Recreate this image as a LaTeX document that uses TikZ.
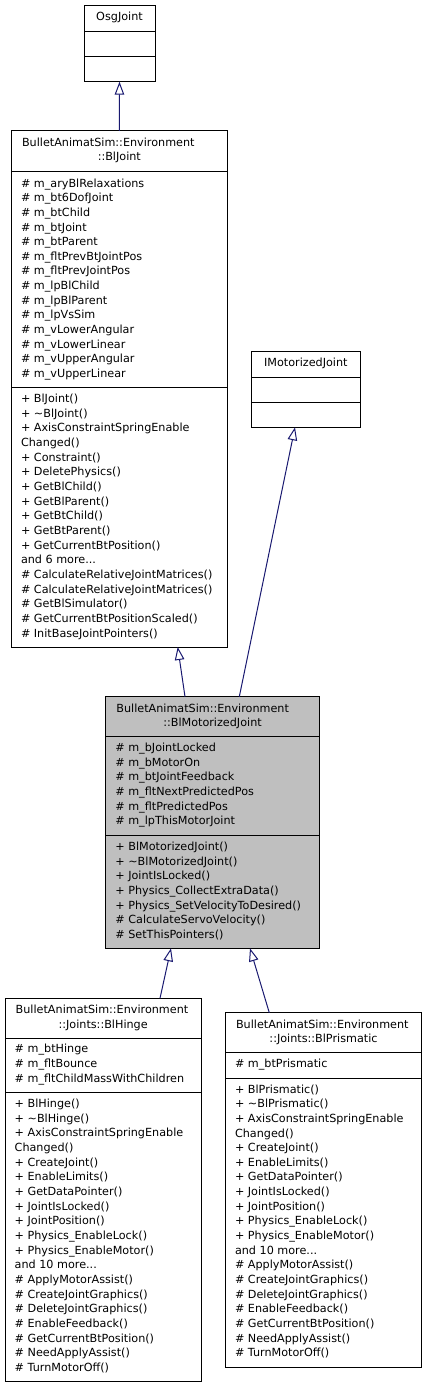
\documentclass[tikz,border=0pt]{standalone}
\usepackage{fontspec}
\setmainfont{DejaVu Sans}
\usepackage{tikz}
\usetikzlibrary{arrows.meta}

\definecolor{edgeblue}{HTML}{191970}
\definecolor{activegray}{HTML}{BFBFBF}

\begin{document}
\begin{tikzpicture}[x=1pt, y=-1pt,
    cls/.style={draw=black, line width=1pt, fill=white, anchor=north west, inner sep=0pt, outer sep=0pt},
    member/.style={anchor=base west, align=left, inner sep=0pt, font=\fontsize{11.2}{14.66}\selectfont},
    title/.style={anchor=base, inner sep=0pt, font=\fontsize{11.2}{14.66}\selectfont},
    inherit/.style={draw=edgeblue, line width=1pt, -{Triangle[open, length=13pt, width=9.5pt]}}]
    \useasboundingbox (0,0) rectangle (427,1388);

    % class frames
    \node [cls, minimum width=71pt, minimum height=76pt] (OsgJoint) at (84,5.7) {};
    \node [cls, minimum width=216pt, minimum height=516pt] (BlJoint) at (11.3,131) {};
    \node [cls, minimum width=108.3pt, minimum height=76.3pt] (IMotorizedJoint) at (251.7,351) {};
    \node [cls, fill=activegray, minimum width=213.6pt, minimum height=251.6pt] (BlMotorizedJoint) at (105.7,696.7) {};
    \node [cls, minimum width=196.3pt, minimum height=383.4pt] (BlHinge) at (5,998.3) {};
    \node [cls, minimum width=196.4pt, minimum height=354.6pt] (BlPrismatic) at (225.3,1012.7) {};

    % compartments
    \draw (OsgJoint.north west) ++(0,25.3) -- ++(71,0) ++(-71,25.3) -- ++(71,0);
    \draw (IMotorizedJoint.north west) ++(0,25.7) -- ++(108.3,0) ++(-108.3,25) -- ++(108.3,0);
    \draw (BlJoint.north west) ++(0,40.7) -- ++(216,0) ++(-216,215.6) -- ++(216,0);
    \draw (BlMotorizedJoint.north west) ++(0,39.6) -- ++(213.6,0) ++(-213.6,99) -- ++(213.6,0);
    \draw (BlHinge.north west) ++(0,39.4) -- ++(196.3,0) ++(-196.3,54.6) -- ++(196.3,0);
    \draw (BlPrismatic.north west) ++(0,39.6) -- ++(196.4,0) ++(-196.4,25.4) -- ++(196.4,0);

    % OsgJoint
    \node [title] (OsgJointName) at (119.5,21) {OsgJoint};

    % IMotorizedJoint
    \node [title] (IMotorizedJointName) at (305.85,366.3) {IMotorizedJoint};

    % BlJoint (member nodes sit on their last baseline)
    \node [member] (BlJointName) at (21.8,146.3) {BulletAnimatSim::Environment};
    \node [title] (BlJointNameB) at (119.3,161) {::BlJoint};
    \node [member] (BlJointAttr) at (20.8,377.6) {\# m\_aryBlRelaxations\\ \# m\_bt6DofJoint\\ \# m\_btChild\\
        \# m\_btJoint\\ \# m\_btParent\\ \# m\_fltPrevBtJointPos\\ \# m\_fltPrevJointPos\\
        \# m\_lpBlChild\\ \# m\_lpBlParent\\ \# m\_lpVsSim\\ \# m\_vLowerAngular\\
        \# m\_vLowerLinear\\ \# m\_vUpperAngular\\ \# m\_vUpperLinear};
    \node [member] (BlJointOps) at (20.8,637.2) {+ BlJoint()\\ + \textasciitilde{}BlJoint()\\
        + AxisConstraintSpringEnable\\ Changed()\\ + Constraint()\\ + DeletePhysics()\\
        + GetBlChild()\\ + GetBlParent()\\ + GetBtChild()\\ + GetBtParent()\\
        + GetCurrentBtPosition()\\ and 6 more...\\ \# CalculateRelativeJointMatrices()\\
        \# CalculateRelativeJointMatrices()\\ \# GetBlSimulator()\\
        \# GetCurrentBtPositionScaled()\\ \# InitBaseJointPointers()};

    % BlMotorizedJoint
    \node [member] (BlMotorizedJointName) at (116.2,712) {BulletAnimatSim::Environment};
    \node [title] (BlMotorizedJointNameB) at (212.5,726.7) {::BlMotorizedJoint};
    \node [member] (BlMotorizedJointAttr) at (115.2,824.9) {\# m\_bJointLocked\\ \# m\_bMotorOn\\
        \# m\_btJointFeedback\\ \# m\_fltNextPredictedPos\\ \# m\_fltPredictedPos\\
        \# m\_lpThisMotorJoint};
    \node [member] (BlMotorizedJointOps) at (115.2,938.6) {+ BlMotorizedJoint()\\
        + \textasciitilde{}BlMotorizedJoint()\\ + JointIsLocked()\\ + Physics\_CollectExtraData()\\
        + Physics\_SetVelocityToDesired()\\ \# CalculateServoVelocity()\\ \# SetThisPointers()};

    % BlHinge
    \node [member] (BlHingeName) at (15.5,1013.6) {BulletAnimatSim::Environment};
    \node [title] (BlHingeNameB) at (103.15,1028.3) {::Joints::BlHinge};
    \node [member] (BlHingeAttr) at (14.5,1082.3) {\# m\_btHinge\\ \# m\_fltBounce\\
        \# m\_fltChildMassWithChildren};
    \node [member] (BlHingeOps) at (14.5,1371.5) {+ BlHinge()\\ + \textasciitilde{}BlHinge()\\
        + AxisConstraintSpringEnable\\ Changed()\\ + CreateJoint()\\ + EnableLimits()\\
        + GetDataPointer()\\ + JointIsLocked()\\ + JointPosition()\\ + Physics\_EnableLock()\\
        + Physics\_EnableMotor()\\ and 10 more...\\ \# ApplyMotorAssist()\\
        \# CreateJointGraphics()\\ \# DeleteJointGraphics()\\ \# EnableFeedback()\\
        \# GetCurrentBtPosition()\\ \# NeedApplyAssist()\\ \# TurnMotorOff()};

    % BlPrismatic
    \node [member] (BlPrismaticName) at (235.8,1028) {BulletAnimatSim::Environment};
    \node [title] (BlPrismaticNameB) at (323.5,1042.7) {::Joints::BlPrismatic};
    \node [member] (BlPrismaticAttr) at (234.8,1067.6) {\# m\_btPrismatic};
    \node [member] (BlPrismaticOps) at (234.8,1356.9) {+ BlPrismatic()\\ + \textasciitilde{}BlPrismatic()\\
        + AxisConstraintSpringEnable\\ Changed()\\ + CreateJoint()\\ + EnableLimits()\\
        + GetDataPointer()\\ + JointIsLocked()\\ + JointPosition()\\ + Physics\_EnableLock()\\
        + Physics\_EnableMotor()\\ and 10 more...\\ \# ApplyMotorAssist()\\
        \# CreateJointGraphics()\\ \# DeleteJointGraphics()\\ \# EnableFeedback()\\
        \# GetCurrentBtPosition()\\ \# NeedApplyAssist()\\ \# TurnMotorOff()};

    % inheritance
    \draw [inherit] (BlJoint.north) -- (OsgJoint.south);
    \draw [inherit] ([xshift=79.3pt]BlMotorizedJoint.north west) -- ([xshift=166.4pt]BlJoint.south west);
    \draw [inherit] ([xshift=133.6pt]BlMotorizedJoint.north west) -- ([xshift=43.3pt]IMotorizedJoint.south west);
    \draw [inherit] ([xshift=155pt]BlHinge.north west) -- ([xshift=65.3pt]BlMotorizedJoint.south west);
    \draw [inherit] ([xshift=44pt]BlPrismatic.north west) -- ([xshift=144.3pt]BlMotorizedJoint.south west);
\end{tikzpicture}
\end{document}
